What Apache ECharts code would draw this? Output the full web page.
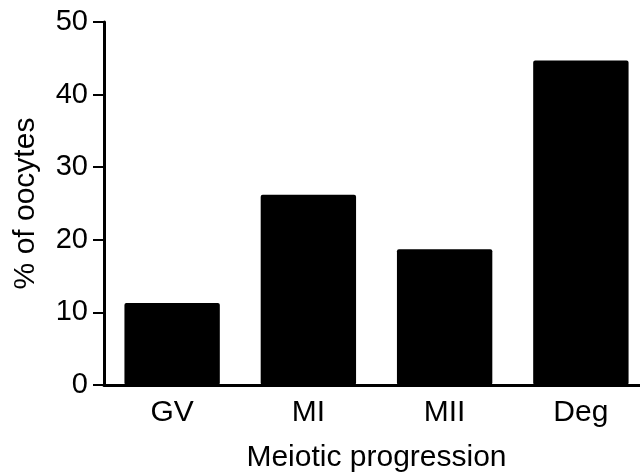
<!DOCTYPE html>
<html>
<head>
<meta charset="utf-8">
<script src="https://cdn.jsdelivr.net/npm/echarts@6/dist/echarts.min.js"></script>
<style>
  html, body { margin: 0; padding: 0; background: #fff; }
  #chart { width: 640px; height: 474px; }
</style>
</head>
<body>
<div id="chart"></div>
<script>
// stages of meiotic progression
const stages = ['GV', 'MI', 'MII', 'Deg']
// % of oocytes in each stage
const percents = [11.3, 26.2, 18.7, 44.7]
const yTicks = [0, 10, 20, 30, 40, 50]

const chart = echarts.init(document.getElementById('chart'))
const font = 'Liberation Sans, Arial, sans-serif'

const option = {
  animation: false,
  grid: {
    left: 104,
    width: 545, // plot runs a bit past the right edge, like the original
    top: 22,
    bottom: 89,
    outerBoundsMode: 'none'
  },
  xAxis: {
    type: 'category',
    data: stages,
    name: 'Meiotic progression',
    nameLocation: 'middle',
    nameGap: 58,
    nameTextStyle: { color: '#000', fontSize: 30, fontFamily: font },
    axisLine: { lineStyle: { color: '#000', width: 3 } },
    axisTick: { alignWithLabel: true, length: 9, lineStyle: { color: '#000', width: 2 } },
    axisLabel: { color: '#000', fontSize: 30, fontFamily: font, margin: 13 }
  },
  yAxis: {
    type: 'value',
    min: yTicks[0],
    max: yTicks[yTicks.length - 1],
    interval: 10,
    name: '% of oocytes',
    nameLocation: 'middle',
    nameGap: 63,
    nameTextStyle: { color: '#000', fontSize: 30, fontFamily: font },
    axisLine: { show: true, lineStyle: { color: '#000', width: 3 } },
    axisTick: { show: true, length: 11, lineStyle: { color: '#000', width: 2 } },
    axisLabel: { color: '#000', fontSize: 29, fontFamily: font, margin: 16 },
    splitLine: { show: false }
  },
  series: [
    {
      type: 'bar',
      data: percents,
      barWidth: '70%',
      itemStyle: { color: '#000', borderRadius: 2 }
    }
  ]
}
chart.setOption(option)
</script>
</body>
</html>
